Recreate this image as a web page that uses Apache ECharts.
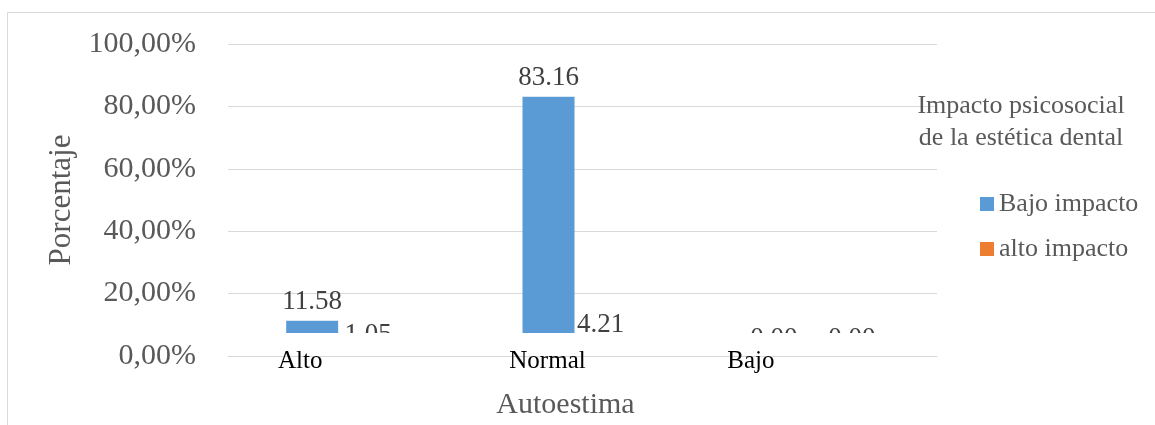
<!DOCTYPE html>
<html>
<head>
<meta charset="utf-8">
<script src="https://cdn.jsdelivr.net/npm/echarts@6/dist/echarts.min.js"></script>
<style>
html,body{margin:0;padding:0;background:#fff;}
#c{width:1155px;height:425px;}
</style>
</head>
<body>
<div id="c"></div>
<script>
const categories = ['Alto', 'Normal', 'Bajo'];
const bajoImpacto = [11.58, 83.16, 0.00];
const altoImpacto = [1.05, 4.21, 0.00];
const seriesNames = ['Bajo impacto', 'alto impacto'];
const legendTitle = 'Impacto psicosocial\nde la estética dental';
const yAxisName = 'Porcentaje';
const xAxisName = 'Autoestima';

const FF = 'Liberation Serif, Times New Roman, serif';
const chart = echarts.init(document.getElementById('c'), null, {renderer: 'canvas'});
const labelShift = [92, 70, 136];
const rich = {};
labelShift.forEach((s, i) => {
  rich['c' + i] = {fontFamily: FF, fontSize: 25, color: '#000', padding: [0, s, 0, 0]};
});

// horizontal nudges of value labels (Excel avoided overlap for the 0.00 pair)
const blueLabelDx = [0, 0, -11];
const orangeLabelDx = [4, 0, 15];
function withLabelOffset(values, dx) {
  return values.map((v, i) => ({value: v, label: {offset: [dx[i], 0]}}));
}

chart.setOption({
  animation: false,
  backgroundColor: '#fff',
  grid: [
    {left: 228, right: 218, top: 44, bottom: 68},
    {left: 220, right: 226, top: 44, bottom: 68}
  ],
  legend: {
    orient: 'vertical',
    left: 975, top: 186,
    icon: 'rect', itemWidth: 14, itemHeight: 14, itemGap: 19,
    textStyle: {fontFamily: FF, fontSize: 26, lineHeight: 26, color: '#595959'},
    data: seriesNames
  },
  xAxis: [
    {
      type: 'category', gridIndex: 0, data: categories, z: 10,
      axisLine: {show: true, lineStyle: {color: '#d9d9d9'}},
      axisTick: {show: false},
      axisLabel: {margin: -7, formatter: (v, i) => '{c' + i + '|' + v + '}', rich: rich},
      name: xAxisName, nameLocation: 'middle', nameGap: 34,
      nameTextStyle: {fontFamily: FF, fontSize: 30, color: '#595959', padding: [0, 34, 0, 0]}
    },
    {type: 'category', gridIndex: 1, data: categories, show: false}
  ],
  yAxis: [
    {
      type: 'value', gridIndex: 0, min: 0, max: 100, interval: 20,
      axisLine: {show: false}, axisTick: {show: false},
      splitLine: {lineStyle: {color: '#d9d9d9', width: 1}},
      axisLabel: {margin: 32, fontFamily: FF, fontSize: 30, color: '#595959',
        formatter: v => v.toFixed(2).replace('.', ',') + '%'},
      name: yAxisName, nameLocation: 'middle', nameGap: 145,
      nameTextStyle: {fontFamily: FF, fontSize: 31, color: '#595959'}
    },
    {type: 'value', gridIndex: 1, min: 0, max: 100, show: false}
  ],
  graphic: [
    {type: 'rect', z: 0, silent: true,
      shape: {x: 7.5, y: 12.5, width: 1200, height: 500},
      style: {fill: 'none', stroke: '#d9d9d9', lineWidth: 1}},
    {type: 'rect', z: 5, silent: true,
      shape: {x: 254, y: 333, width: 671, height: 48},
      style: {fill: '#fff'}},
    {type: 'text', z: 5, x: 1021, y: 90,
      style: {text: legendTitle, fontFamily: FF, fontSize: 26, lineHeight: 32,
        fill: '#595959', align: 'center', verticalAlign: 'top'}}
  ],
  series: [
    {
      name: seriesNames[0], type: 'bar', xAxisIndex: 1, yAxisIndex: 1,
      data: withLabelOffset(bajoImpacto, blueLabelDx), barWidth: 52, barGap: '0%',
      itemStyle: {color: '#5B9BD5'},
      label: {show: true, position: 'top', distance: 5, fontFamily: FF, fontSize: 27,
        color: '#404040', formatter: p => p.value.toFixed(2)}
    },
    {
      name: seriesNames[1], type: 'bar', xAxisIndex: 1, yAxisIndex: 1,
      data: withLabelOffset(altoImpacto, orangeLabelDx), barWidth: 52, barGap: '0%',
      itemStyle: {color: '#ED7D31'},
      label: {show: true, position: 'top', distance: 5, fontFamily: FF, fontSize: 27,
        color: '#404040', formatter: p => p.value.toFixed(2)}
    }
  ]
});
</script>
</body>
</html>
